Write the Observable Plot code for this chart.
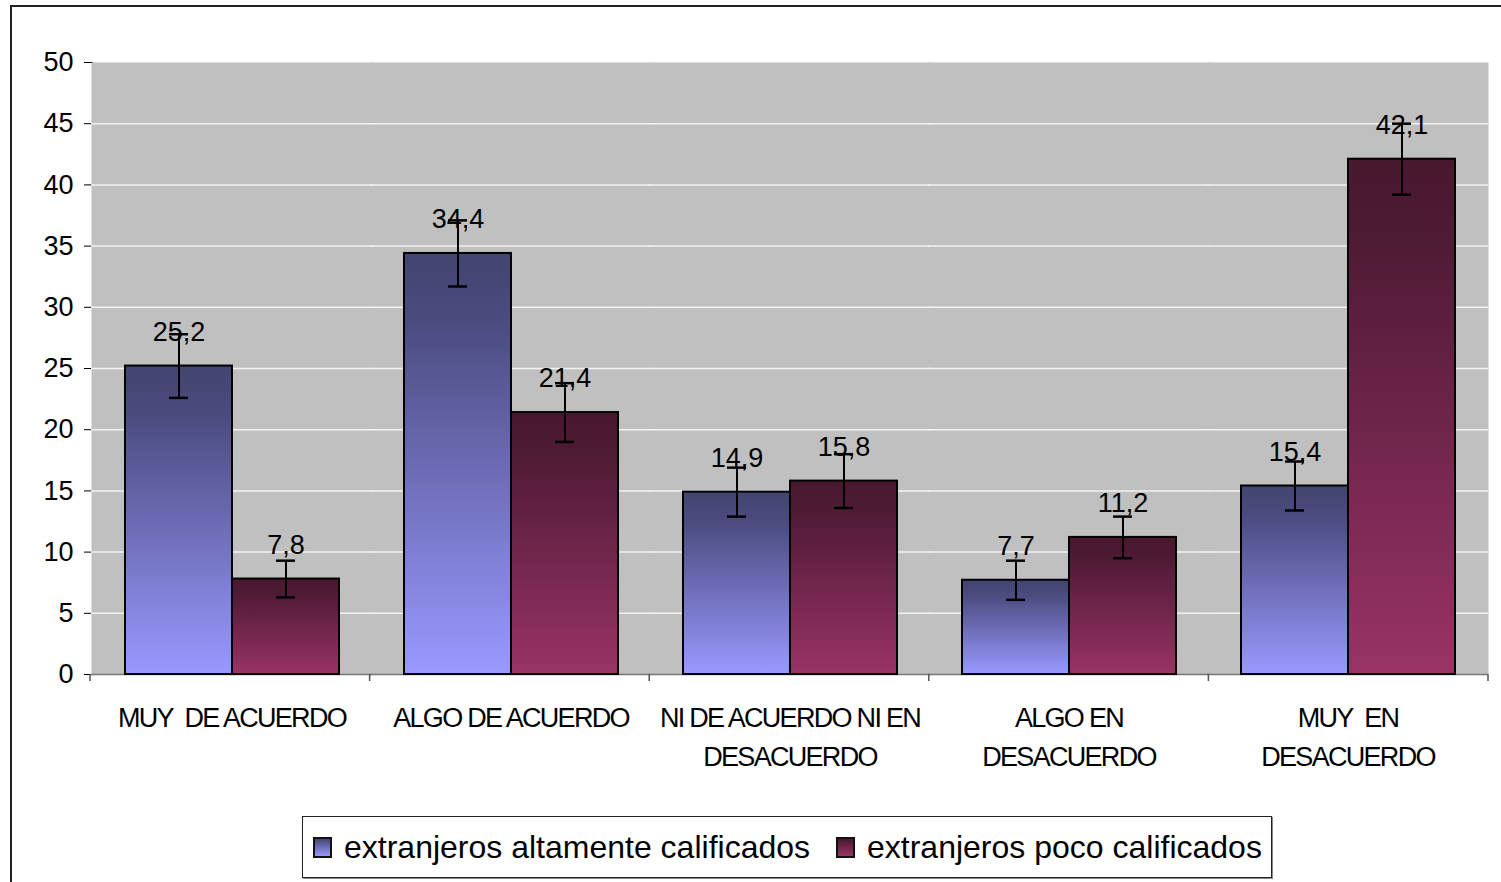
<!DOCTYPE html>
<html>
<head>
<meta charset="utf-8">
<script src="https://cdn.jsdelivr.net/npm/d3@7"></script>
<script src="https://cdn.jsdelivr.net/npm/@observablehq/plot@0.6"></script>
<style>
  html, body { margin: 0; padding: 0; background: #fff; overflow: hidden; width: 1501px; height: 882px; }
  body { font-family: "Liberation Sans", Arial, sans-serif; position: relative; }
  #border { position: absolute; left: 10px; top: 5px; width: 1600px; height: 1000px; border: 2px solid #222; box-sizing: border-box; }
  #chart { position: absolute; left: 0; top: 0; }
  #legend { position: absolute; left: 302px; top: 816px; width: 970px; height: 62px; box-sizing: border-box;
            border: 1px solid #222; box-shadow: 1px 1px 0 #888; background: #fff;
            display: flex; align-items: center; padding-left: 10px; font-size: 32px; color: #000; white-space: nowrap; }
  .sw { width: 15px; height: 17px; border: 2px solid #111; margin-right: 12px; flex-shrink: 0; }
  .item { display: flex; align-items: center; margin-right: 26px; flex-shrink: 0; white-space: nowrap; }
</style>
</head>
<body>
<svg width="0" height="0" style="position:absolute">
  <defs>
    <linearGradient id="gBlue" x1="0" y1="0" x2="0" y2="1">
      <stop offset="0" stop-color="#444470"/>
      <stop offset="0.15" stop-color="#4a4a7e"/>
      <stop offset="1" stop-color="#9999ff"/>
    </linearGradient>
    <linearGradient id="gRed" x1="0" y1="0" x2="0" y2="1">
      <stop offset="0" stop-color="#48182e"/>
      <stop offset="0.15" stop-color="#4e1a34"/>
      <stop offset="1" stop-color="#993366"/>
    </linearGradient>
  </defs>
</svg>
<div id="border"></div>
<div id="chart"></div>
<div id="legend"></div>
<script>
const categories = ["MUY\u00a0 DE ACUERDO", "ALGO DE ACUERDO", "NI DE ACUERDO NI EN\nDESACUERDO", "ALGO EN\nDESACUERDO", "MUY\u00a0 EN\nDESACUERDO"];
const seriesNames = ["extranjeros altamente calificados", "extranjeros poco calificados"];
const altamente = [25.2, 34.4, 14.9, 7.7, 15.4];
const poco = [7.8, 21.4, 15.8, 11.2, 42.1];
const errAltamente = [2.6, 2.7, 2.0, 1.6, 2.0];
const errPoco = [1.5, 2.4, 2.2, 1.7, 2.9];
const yTicks = [0, 5, 10, 15, 20, 25, 30, 35, 40, 45, 50];
const gridTicks = [5, 10, 15, 20, 25, 30, 35, 40, 45];
const seriesFills = ["url(#gBlue)", "url(#gRed)"];

const rows = [];
categories.forEach((c, i) => {
  rows.push({cat: c, series: seriesNames[0], value: altamente[i], err: errAltamente[i]});
  rows.push({cat: c, series: seriesNames[1], value: poco[i], err: errPoco[i]});
});
const fmt = v => v.toFixed(1).replace(".", ",");

const W = 1501, H = 800, mT = 62, mB = 126, mL = 90, mR = 13;

const chart = Plot.plot({
  width: W, height: H,
  marginTop: mT, marginBottom: mB, marginLeft: mL, marginRight: mR,
  style: {fontFamily: "'Liberation Sans', Arial, sans-serif", fontSize: "27px", color: "#000", background: "transparent"},
  fx: {domain: categories, axis: null, padding: 0},
  x: {domain: seriesNames, axis: null, paddingInner: 0, paddingOuter: 0.3},
  y: {domain: [0, 50], ticks: yTicks, tickSize: 8, tickPadding: 11, line: true, label: null},
  marks: [
    Plot.frame({fill: "#c0c0c0", stroke: null, insetLeft: -1, insetRight: -1}),
    Plot.gridY(gridTicks, {stroke: "#f2f2f2", strokeOpacity: 1, strokeWidth: 1.5, insetLeft: -1, insetRight: -1}),
    Plot.ruleY([0], {stroke: "#777", strokeWidth: 1.5, insetLeft: -1, insetRight: -1}),
    Plot.barY(rows.filter(d => d.series === seriesNames[0]), {fx: "cat", x: "series", y: "value", fill: seriesFills[0], stroke: "#000", strokeWidth: 2}),
    Plot.barY(rows.filter(d => d.series === seriesNames[1]), {fx: "cat", x: "series", y: "value", fill: seriesFills[1], stroke: "#000", strokeWidth: 2}),
    Plot.text(rows, {fx: "cat", x: "series", y: "value", text: d => fmt(d.value), dy: -34, fontSize: 27, fill: "#000"}),
    Plot.ruleX(rows, {fx: "cat", x: "series", y1: d => d.value - d.err, y2: d => d.value + d.err, stroke: "#000", strokeWidth: 2}),
    Plot.tickY(rows, {fx: "cat", x: "series", y: d => d.value + d.err, insetLeft: 44, insetRight: 44, stroke: "#000", strokeWidth: 2.5}),
    Plot.tickY(rows, {fx: "cat", x: "series", y: d => d.value - d.err, insetLeft: 44, insetRight: 44, stroke: "#000", strokeWidth: 2.5}),
    Plot.text(categories, {fx: d => d, text: d => d, frameAnchor: "bottom", dy: 25, lineAnchor: "top", lineHeight: 1.45, fontSize: 27, fill: "#000", ariaLabel: "category-labels"})
  ]
});
document.getElementById("chart").appendChild(chart);

// condensed look of the category labels
d3.select(chart).selectAll("text")
  .filter(function() { return categories.some(c => c.split("\n").some(part => (this.textContent || "").includes(part))); })
  .each(function() {
    d3.select(this).style("letter-spacing", "-1.7px");
    d3.select(this).selectAll("tspan").style("letter-spacing", "-1.7px");
  });

// category boundary tick marks below the baseline, placed from the fx scale
const fxScale = chart.scale("fx");
const yScale = chart.scale("y");
const band = d3.scaleBand().domain(fxScale.domain).range(fxScale.range).paddingInner(0).paddingOuter(0);
const edges = fxScale.domain.map(c => band(c)).concat([band.range()[1]]);
const base = yScale.apply ? yScale.apply(0) : (H - mB);
d3.select(chart).append("g").attr("aria-label", "fx-boundary-ticks")
  .selectAll("line").data(edges).join("line")
  .attr("x1", d => d).attr("x2", d => d)
  .attr("y1", base).attr("y2", base + 7)
  .attr("stroke", "#555").attr("stroke-width", 1.5);

const legend = document.getElementById("legend");
const swatchBg = ["linear-gradient(#444470, #9999ff)", "linear-gradient(#48182e, #993366)"];
seriesNames.forEach((name, i) => {
  const item = document.createElement("div");
  item.className = "item";
  const sw = document.createElement("div");
  sw.className = "sw";
  sw.style.background = swatchBg[i];
  const label = document.createElement("span");
  label.textContent = name;
  item.appendChild(sw);
  item.appendChild(label);
  legend.appendChild(item);
});
</script>
</body>
</html>
